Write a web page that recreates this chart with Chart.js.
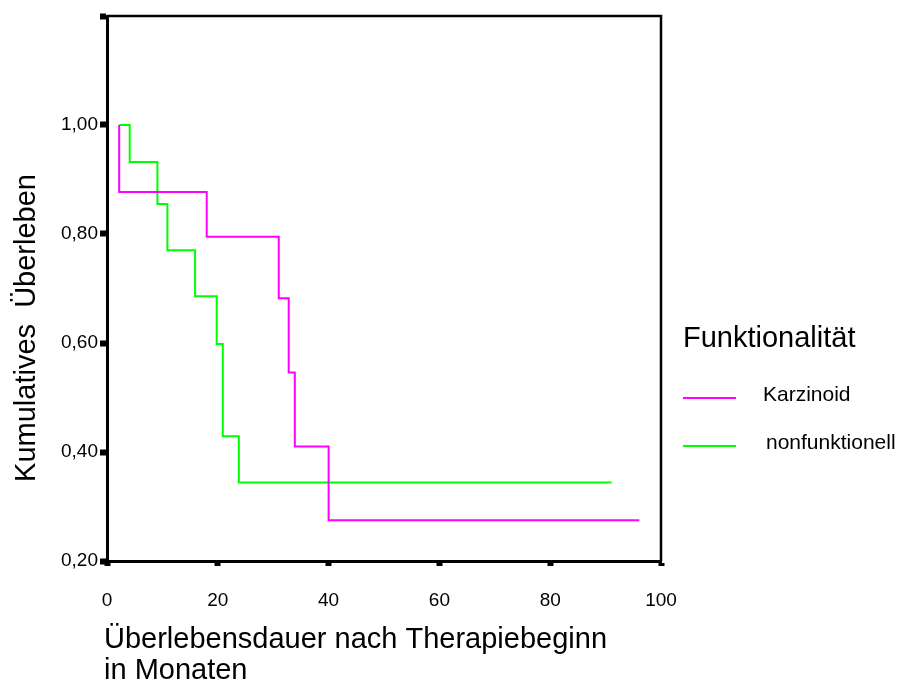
<!DOCTYPE html>
<html>
<head>
<meta charset="utf-8">
<script src="https://cdn.jsdelivr.net/npm/chart.js"></script>
<style>
  body { margin: 0; background: #fff; }
  canvas { display: block; }
</style>
</head>
<body>
<canvas id="chart" width="898" height="684"></canvas>
<script>
// Kaplan-Meier Stufen (Monate / kumulatives Ueberleben)
const karzinoidTime = [2.2, 2.2, 18.0, 31.0, 32.8, 33.9, 40.0, 96.1];
const karzinoidSurv = [1.0, 0.877, 0.795, 0.682, 0.546, 0.410, 0.275, 0.275];

const nonfunkTime = [2.2, 4.1, 9.1, 10.9, 15.9, 19.8, 20.9, 23.8, 91.1];
const nonfunkSurv = [1.0, 0.932, 0.855, 0.770, 0.686, 0.598, 0.429, 0.344, 0.344];

const seriesNames = ['Karzinoid', 'nonfunktionell'];
const seriesColors = ['#ff00ff', '#00ff00'];

const xTickLabels = ['0', '20', '40', '60', '80', '100'];
const yTickLabels = ['0,20', '0,40', '0,60', '0,80', '1,00', ''];

const legendTitle = 'Funktionalität';
const xTitle = ['Überlebensdauer nach Therapiebeginn', 'in Monaten'];
const yTitle = 'Kumulatives  Überleben';

const FONT = '"Liberation Sans", Arial, Helvetica, sans-serif';

const toPoints = (xs, ys) => xs.map((x, i) => ({ x: x, y: ys[i] }));

// Rahmen oben/rechts, Achsentitel und Legende
const decorPlugin = {
  id: 'decor',
  afterDraw(chart) {
    const ctx = chart.ctx;
    const a = chart.chartArea;
    ctx.save();

    // box top + right
    ctx.strokeStyle = '#000';
    ctx.lineWidth = 2.5;
    ctx.beginPath();
    ctx.moveTo(a.left, a.top);
    ctx.lineTo(a.right, a.top);
    ctx.lineTo(a.right, a.bottom);
    ctx.stroke();

    ctx.fillStyle = '#000';

    // y title
    ctx.font = '29px ' + FONT;
    ctx.textAlign = 'center';
    ctx.textBaseline = 'alphabetic';
    ctx.save();
    ctx.translate(35, 328);
    ctx.rotate(-Math.PI / 2);
    ctx.fillText(yTitle, 0, 0);
    ctx.restore();

    // x title
    ctx.textAlign = 'left';
    ctx.fillText(xTitle[0], 104, 648);
    ctx.fillText(xTitle[1], 104, 679);

    // legend
    ctx.fillText(legendTitle, 683, 347);
    ctx.font = '21px ' + FONT;
    const rows = [[398, 401, 763], [446, 449, 766]];
    chart.data.datasets.forEach((ds, i) => {
      const r = rows[i];
      ctx.strokeStyle = ds.borderColor;
      ctx.lineWidth = 2;
      ctx.beginPath();
      ctx.moveTo(683, r[0]);
      ctx.lineTo(736, r[0]);
      ctx.stroke();
      ctx.fillStyle = '#000';
      ctx.fillText(ds.label, r[2], r[1]);
    });

    ctx.restore();
  }
};

new Chart(document.getElementById('chart'), {
  type: 'line',
  data: {
    datasets: [
      {
        label: seriesNames[0],
        data: toPoints(karzinoidTime, karzinoidSurv),
        borderColor: seriesColors[0],
        borderWidth: 2,
        stepped: true,
        pointRadius: 0,
        fill: false
      },
      {
        label: seriesNames[1],
        data: toPoints(nonfunkTime, nonfunkSurv),
        borderColor: seriesColors[1],
        borderWidth: 2,
        stepped: true,
        pointRadius: 0,
        fill: false
      }
    ]
  },
  options: {
    responsive: false,
    animation: false,
    layout: {
      padding: { left: 0, top: 16, right: 237, bottom: 0 }
    },
    plugins: {
      legend: { display: false },
      tooltip: { enabled: false }
    },
    scales: {
      x: {
        type: 'linear',
        min: 0,
        max: 100,
        afterFit: (scale) => { scale.height = 123; },
        border: { display: true, color: '#000', width: 3 },
        grid: {
          drawOnChartArea: false,
          tickLength: 5,
          tickWidth: 6,
          tickColor: '#000'
        },
        ticks: {
          stepSize: 20,
          autoSkip: false,
          maxRotation: 0,
          padding: 23,
          color: '#000',
          font: { family: FONT, size: 19 },
          callback: (v, i) => xTickLabels[i]
        }
      },
      y: {
        min: 0.2,
        max: 1.2,
        afterFit: (scale) => { scale.width = 107; },
        border: { display: true, color: '#000', width: 3 },
        grid: {
          drawOnChartArea: false,
          tickLength: 7,
          tickWidth: 6,
          tickColor: '#000'
        },
        ticks: {
          stepSize: 0.2,
          autoSkip: false,
          padding: 2,
          color: '#000',
          font: { family: FONT, size: 19 },
          callback: (v, i) => yTickLabels[i]
        }
      }
    }
  },
  plugins: [decorPlugin]
});
</script>
</body>
</html>
